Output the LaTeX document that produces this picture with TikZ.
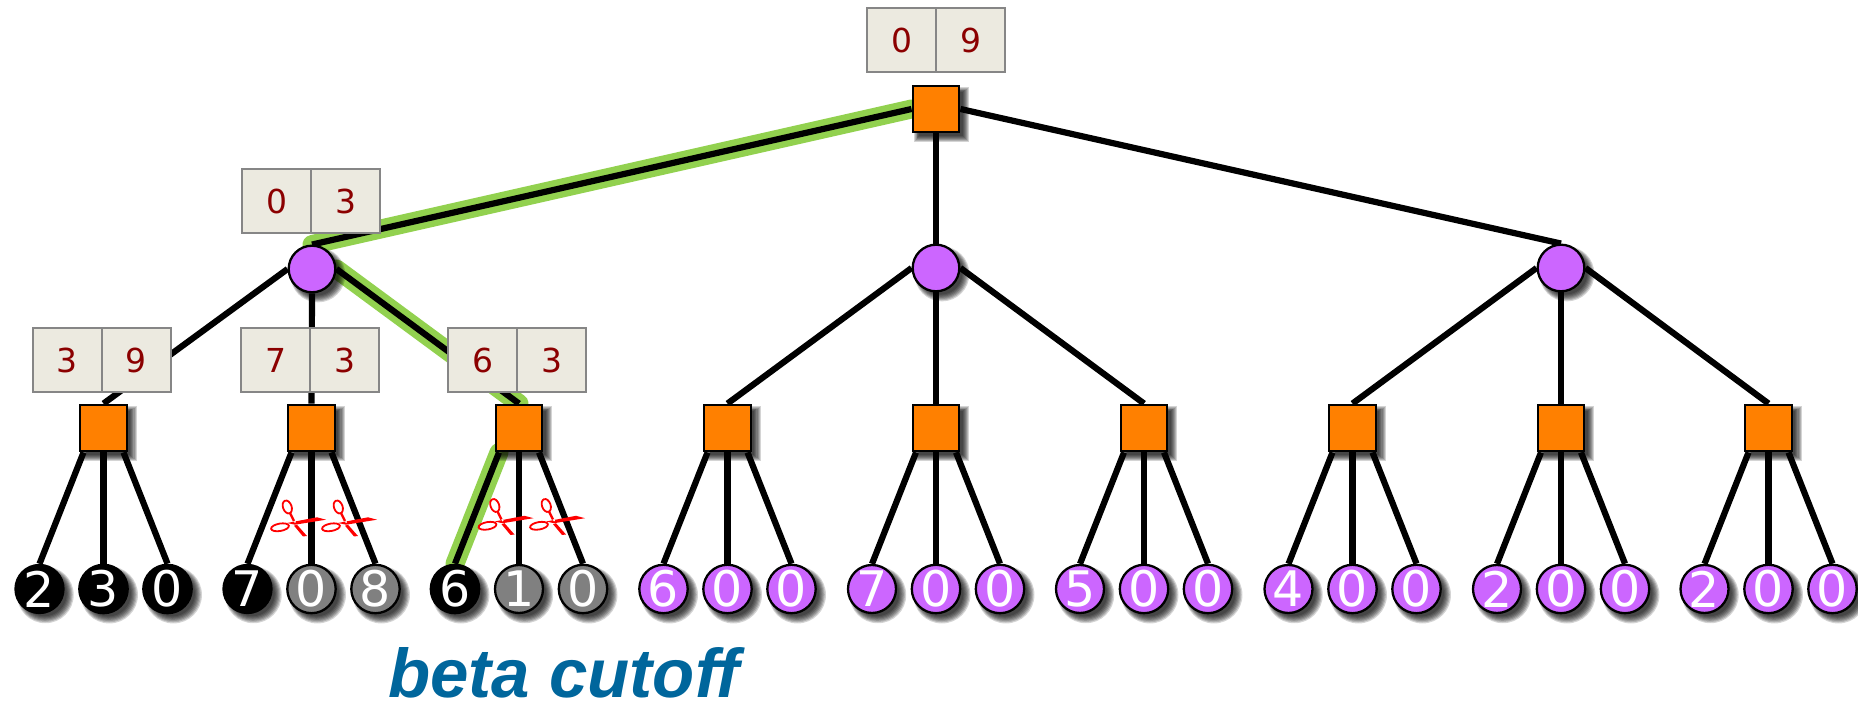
\documentclass[tikz,border=0pt]{standalone}
\usepackage{fontspec}
\setmainfont{DejaVu Sans}
\newfontfamily\betafont{Liberation Sans}
\usetikzlibrary{backgrounds,shadows}
\definecolor{sqorange}{HTML}{FF8000}
\definecolor{nodepurple}{HTML}{CC66FF}
\definecolor{leafgray}{HTML}{808080}
\definecolor{pathgreen}{HTML}{92D14F}
\definecolor{boxfill}{HTML}{ECEAE0}
\definecolor{boxline}{HTML}{868686}
\definecolor{boxtext}{HTML}{8B0000}
\definecolor{betablue}{HTML}{00669C}
\tikzset{
  shadowstep/.style={general shadow={fill=black,opacity=.17,shadow xshift=2.5pt,shadow yshift=-2.5pt,shadow scale=#1}},
  softshadow/.style={shadowstep=1.18,shadowstep=1.14,shadowstep=1.1,shadowstep=1.06,shadowstep=1.02,shadowstep=.98,shadowstep=.94},
  sqnode/.style={rectangle,draw=black,line width=1.15pt,fill=sqorange,minimum size=23.3pt,inner sep=0pt,softshadow},
  minnode/.style={circle,draw=black,line width=1.15pt,fill=nodepurple,minimum size=23.3pt,inner sep=0pt,softshadow},
  leafnode/.style={circle,draw=black,line width=1.15pt,fill=#1,minimum size=24pt,inner sep=0pt,text=white,font=\fontsize{24.5}{24.5}\selectfont,softshadow},
  valbox/.style={rectangle,draw=boxline,line width=1pt,fill=boxfill,minimum width=34.5pt,minimum height=32pt,inner sep=0pt,outer sep=0pt,text=boxtext,font=\fontsize{16.5}{16.5}\selectfont},
  edge/.style={line width=3.1pt,black},
  greenedge/.style={line width=9.5pt,pathgreen,line cap=round,line join=round},
  % scissors, origin at the pivot
  scissor/.pic={
    \fill[red] (-8,1) -- (22,-4.7) -- (31,-2.3) -- (0,2.7) -- cycle;
    \fill[red] (2,2.7) -- (12,14) -- (8,14.5) -- (-1,3.7) -- cycle;
    \draw[red,line width=0.9pt] (-7.7,-15) ellipse [x radius=4.3,y radius=6.7,rotate=20];
    \draw[red,line width=0.9pt] (-15,5.3) ellipse [x radius=9,y radius=3.7,rotate=10];
    \draw[red,line width=1.2pt] (-5,-9) -- (-1,-1);
    \fill[white] (0,0) circle (1);
  }
}
\begin{document}
\begin{tikzpicture}[x=0.5pt,y=-0.5pt]
\useasboundingbox (0,0) rectangle (1858,704);
% tree nodes
\node[sqnode] (root) at (936,109) {};
\node[minnode] (c1) at (312,269) {};
\node[minnode] (c2) at (936,268) {};
\node[minnode] (c3) at (1561,268) {};
\foreach \i/\x/\va/\vb/\vc/\fa/\fb/\fc in {
  1/103.5/2/3/0/black/black/black,
  2/311.5/7/0/8/black/leafgray/leafgray,
  3/519/6/1/0/black/leafgray/leafgray,
  4/727.5/6/0/0/nodepurple/nodepurple/nodepurple,
  5/936/7/0/0/nodepurple/nodepurple/nodepurple,
  6/1144/5/0/0/nodepurple/nodepurple/nodepurple,
  7/1352.5/4/0/0/nodepurple/nodepurple/nodepurple,
  8/1561/2/0/0/nodepurple/nodepurple/nodepurple,
  9/1768.5/2/0/0/nodepurple/nodepurple/nodepurple}{
  \node[sqnode] (s\i) at (\x,428) {};
  \node[leafnode=\fa] (l\i a) at (\x-64,589) {\va};
  \node[leafnode=\fb] (l\i b) at (\x,589) {\vb};
  \node[leafnode=\fc] (l\i c) at (\x+64,589) {\vc};
}
% value boxes, placed at their divider
\foreach \n/\x/\y/\va/\vb in {r/936/40.5/0/9,m/311/201/0/3,p/101.5/360/3/9,q/310/360/7/3,t/517/360/6/3}{
  \node[valbox,anchor=east] (\n a) at (\x,\y) {\va};
  \node[valbox,anchor=west] (\n b) at (\x,\y) {\vb};
}
% edges go behind everything
\begin{scope}[on background layer]
\draw[greenedge] (root.west) -- (c1.north);
\draw[greenedge] (c1.east) -- (s3.north);
\draw[greenedge] ([xshift=-10pt]s3.south) -- (l3a.north);
\draw[edge] (root.west) -- (c1.north);
\draw[edge] (root.south) -- (c2.north);
\draw[edge] (root.east) -- (c3.north);
\foreach \c/\a/\b/\d in {c1/s1/s2/s3,c2/s4/s5/s6,c3/s7/s8/s9}{
  \draw[edge] (\c.west) -- (\a.north);
  \draw[edge] (\c.south) -- (\b.north);
  \draw[edge] (\c.east) -- (\d.north);
}
\foreach \i in {1,...,9}{
  \draw[edge] ([xshift=-10pt]s\i.south) -- (l\i a.north);
  \draw[edge] (s\i.south) -- (l\i b.north);
  \draw[edge] ([xshift=10pt]s\i.south) -- (l\i c.north);
}
\end{scope}
% cuts
\foreach \x/\y in {295/522,346/522,502.5/520.5,554/520.5}{
  \pic at (\x,\y) {scissor};
}
\node[anchor=base west,inner sep=0pt,text=betablue,font=\betafont\bfseries\itshape\fontsize{34.5}{34.5}\selectfont] (beta) at (388,698) {beta cutoff};
\end{tikzpicture}
\end{document}
